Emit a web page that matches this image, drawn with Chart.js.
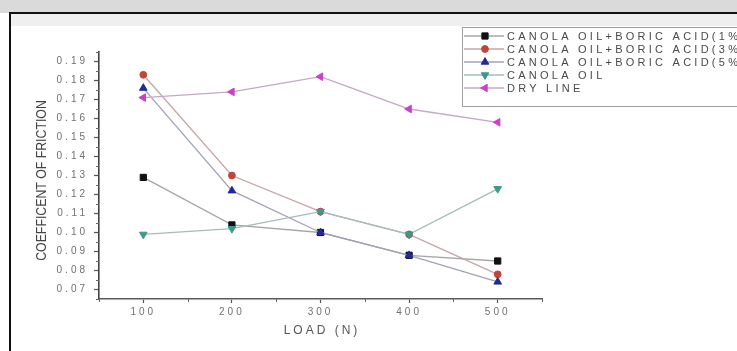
<!DOCTYPE html>
<html>
<head>
<meta charset="utf-8">
<script src="https://cdn.jsdelivr.net/npm/chart.js@4/dist/chart.umd.min.js"></script>
<style>
  html, body { margin: 0; padding: 0; background: #fff; }
  #wrap { width: 737px; height: 351px; }
</style>
</head>
<body>
<div id="wrap"><canvas id="frictionChart" width="737" height="351"></canvas></div>
<script>
// values (load in N, coefficient of friction)
const loads = [100, 200, 300, 400, 500];
const acid1 = [0.129, 0.104, 0.100, 0.088, 0.085];
const acid3 = [0.183, 0.130, 0.111, 0.099, 0.078];
const acid5 = [0.176, 0.122, 0.100, 0.088, 0.074];
const canola = [0.099, 0.102, 0.111, 0.099, 0.123];
const dryLine = [0.171, 0.174, 0.182, 0.165, 0.158];

const seriesNames = [
  "CANOLA OIL+BORIC ACID(1%)",
  "CANOLA OIL+BORIC ACID(3%)",
  "CANOLA OIL+BORIC ACID(5%)",
  "CANOLA OIL",
  "DRY LINE"
];
const xTickValues = [100, 200, 300, 400, 500];
const yTickValues = [0.07, 0.08, 0.09, 0.10, 0.11, 0.12, 0.13, 0.14, 0.15, 0.16, 0.17, 0.18, 0.19];
const xTitle = "LOAD (N)";
const yTitle = "COEFFICENT OF FRICTION";

const markerColors = ["#111111", "#c0453a", "#1f2a9a", "#3a9a8a", "#cc3fcc"];
const lineColors = ["#a6a6a6", "#c4a6a6", "#a2a2b8", "#a6bcb8", "#c4a8c4"];
const markerStyles = ["rect", "circle", "triangle", "triangle", "triangle"];
const markerRotation = [0, 0, 0, 180, -90];
const markerRadius = [4.4, 3.4, 4.4, 4.4, 4.4];

const seriesValues = [acid1, acid3, acid5, canola, dryLine];

const datasets = seriesValues.map((vals, i) => ({
  label: seriesNames[i],
  data: loads.map((x, j) => ({x: x, y: vals[j]})),
  borderColor: lineColors[i],
  borderWidth: 1.3,
  pointStyle: markerStyles[i],
  rotation: markerRotation[i],
  pointRadius: markerRadius[i],
  pointBackgroundColor: markerColors[i],
  pointBorderColor: markerColors[i],
  pointBorderWidth: 1,
  tension: 0,
  order: 4 - i
}));

// short ticks halfway between the labelled ones
const drawMinorTicks = (ctx, chart) => {
  const xs = chart.scales.x, ys = chart.scales.y;
  ctx.save();
  ctx.strokeStyle = "#666";
  ctx.lineWidth = 1;
  ctx.beginPath();
  const xMinor = [xs.min];
  for (let i = 0; i < xTickValues.length - 1; i++) xMinor.push((xTickValues[i] + xTickValues[i + 1]) / 2);
  xMinor.push(xs.max);
  xMinor.forEach(v => {
    const px = Math.round(xs.getPixelForValue(v)) + 0.5;
    ctx.moveTo(px, xs.top);
    ctx.lineTo(px, xs.top + 3);
  });
  const yMinor = [ys.min];
  for (let i = 0; i < yTickValues.length - 1; i++) yMinor.push((yTickValues[i] + yTickValues[i + 1]) / 2);
  yMinor.push(ys.max);
  yMinor.forEach(v => {
    const py = Math.round(ys.getPixelForValue(v)) + 0.5;
    ctx.moveTo(ys.right, py);
    ctx.lineTo(ys.right - 3, py);
  });
  ctx.stroke();
  ctx.restore();
};

const paperPlugin = {
  id: "paper",
  beforeDraw(chart) {
    const ctx = chart.ctx;
    ctx.save();
    ctx.fillStyle = "#ffffff";
    ctx.fillRect(0, 0, chart.width, chart.height);
    ctx.fillStyle = "#dadada";
    ctx.fillRect(0, 0, chart.width, 13);
    ctx.fillStyle = "#efefef";
    ctx.fillRect(10, 13, chart.width - 10, 13);
    ctx.fillStyle = "#111";
    ctx.fillRect(9, 12, chart.width - 9, 2);
    ctx.fillRect(9, 12, 2, chart.height - 12);
    ctx.restore();
    ctx.letterSpacing = "3px";
  },
  afterDraw(chart) {
    const ctx = chart.ctx;
    ctx.letterSpacing = "0px";
    drawMinorTicks(ctx, chart);
    const xs = chart.scales.x, ys = chart.scales.y;

    // axis titles
    ctx.save();
    ctx.fillStyle = "#444";
    ctx.font = "15px 'Liberation Sans', Arial, sans-serif";
    ctx.textAlign = "center";
    ctx.textBaseline = "middle";
    ctx.translate(42, (ys.top + ys.bottom) / 2 + 5);
    ctx.rotate(-Math.PI / 2);
    ctx.scale(0.82, 1);
    ctx.fillText(yTitle, 0, 0);
    ctx.restore();

    ctx.save();
    ctx.fillStyle = "#555";
    ctx.font = "12px 'Liberation Sans', Arial, sans-serif";
    ctx.letterSpacing = "3px";
    ctx.textAlign = "center";
    ctx.textBaseline = "middle";
    ctx.fillText(xTitle, (xs.left + xs.right) / 2 + 1.5, 331);
    ctx.restore();

    // legend box
    ctx.save();
    ctx.strokeStyle = "#a0a0a0";
    ctx.lineWidth = 1;
    ctx.strokeRect(462.5, 27.5, 300, 79);
    chart.data.datasets.forEach((ds, i) => {
      const y = 36 + 13 * i;
      ctx.strokeStyle = ds.borderColor;
      ctx.lineWidth = 1.3;
      ctx.beginPath();
      ctx.moveTo(464, y);
      ctx.lineTo(504, y);
      ctx.stroke();
      ctx.fillStyle = ds.pointBackgroundColor;
      ctx.strokeStyle = ds.pointBorderColor;
      ctx.lineWidth = 1;
      Chart.helpers.drawPoint(ctx, {
        pointStyle: ds.pointStyle,
        rotation: ds.rotation,
        radius: ds.pointRadius,
        borderWidth: 1
      }, 485, y);
      ctx.fillStyle = "#4a4a4a";
      ctx.font = "11px 'Liberation Sans', Arial, sans-serif";
      ctx.letterSpacing = "3.25px";
      ctx.textAlign = "left";
      ctx.textBaseline = "middle";
      ctx.fillText(ds.label, 507, y + 0.5);
      ctx.letterSpacing = "0px";
    });
    ctx.restore();
  }
};

const tickFont = {family: "'Liberation Sans', Arial, sans-serif", size: 10};

new Chart(document.getElementById("frictionChart"), {
  type: "line",
  data: {datasets: datasets},
  options: {
    responsive: false,
    animation: false,
    devicePixelRatio: 1,
    layout: {padding: {top: 52, right: 195, left: 0, bottom: 0}},
    plugins: {legend: {display: false}, tooltip: {enabled: false}},
    scales: {
      x: {
        type: "linear",
        position: "bottom",
        min: 50,
        max: 550,
        afterBuildTicks: s => { s.ticks = xTickValues.map(v => ({value: v})); },
        afterFit: s => { s.height = 52; },
        grid: {drawOnChartArea: false, drawTicks: true, tickLength: 4, tickColor: "#555", tickWidth: 1.2},
        border: {color: "#5a5a5a", width: 1.6},
        ticks: {color: "#707070", font: tickFont, padding: 3, maxRotation: 0, autoSkip: false}
      },
      y: {
        type: "linear",
        position: "left",
        min: 0.065,
        max: 0.195,
        afterBuildTicks: s => { s.ticks = yTickValues.map(v => ({value: v})); },
        afterFit: s => { s.width = 99; },
        grid: {drawOnChartArea: false, drawTicks: true, tickLength: 5, tickColor: "#555", tickWidth: 1.2},
        border: {color: "#444", width: 1.6},
        ticks: {color: "#707070", font: tickFont, padding: 6, autoSkip: false, callback: v => v.toFixed(2)}
      }
    }
  },
  plugins: [paperPlugin]
});
</script>
</body>
</html>
